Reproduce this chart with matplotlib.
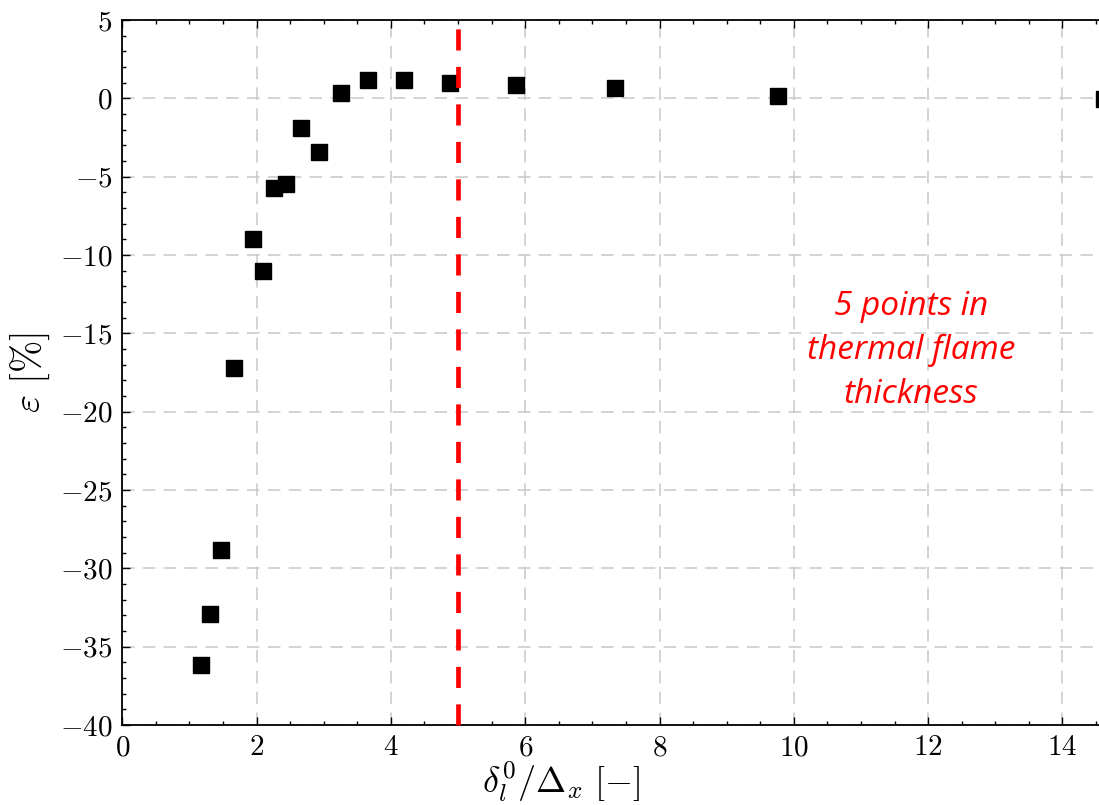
import matplotlib
matplotlib.use("Agg")
import matplotlib.pyplot as plt
from matplotlib.ticker import MultipleLocator

# Resolution ratio and relative error of the laminar flame speed
resolution = [1.17, 1.31, 1.47, 1.67, 1.95, 2.09, 2.26, 2.44, 2.66, 2.93,
              3.26, 3.66, 4.19, 4.88, 5.86, 7.33, 9.76, 14.62]
error_pct = [-36.2, -32.9, -28.8, -17.2, -9.0, -11.0, -5.75, -5.5, -1.9, -3.4,
             0.35, 1.15, 1.2, 0.95, 0.85, 0.65, 0.15, -0.05]
threshold = 5.0
note = "5 points in\nthermal flame\nthickness"
x_ticks = [0, 2, 4, 6, 8, 10, 12, 14]
y_ticks = [-40, -35, -30, -25, -20, -15, -10, -5, 0, 5]

plt.rcParams.update({
    "font.family": "serif",
    "font.serif": ["cmr10"],
    "mathtext.fontset": "cm",
    "axes.formatter.use_mathtext": True,
    "lines.scale_dashes": False,
})

W, H = 1099, 805
fig = plt.figure(figsize=(W / 100, H / 100), dpi=100)
left_px, top_px, bottom_px = 122.3, 20.0, 725.0
px_per_unit = 67.15
ax = fig.add_axes([left_px / W, (H - bottom_px) / H,
                   15 * px_per_unit / W, (bottom_px - top_px) / H])

ax.set_xlim(0, 15)
ax.set_ylim(-40, 5)
ax.set_xticks(x_ticks)
ax.set_yticks(y_ticks)
ax.xaxis.set_minor_locator(MultipleLocator(0.5))
ax.yaxis.set_minor_locator(MultipleLocator(1))

ax.grid(True, which="major", color="#c8c8c8", linewidth=1.1,
        linestyle=(0, (9, 6)), zorder=0)
ax.set_axisbelow(True)

ax.plot(resolution, error_pct, linestyle="none", marker="s", markersize=11.5,
        markerfacecolor="black", markeredgecolor="black", zorder=3)

ax.plot([threshold, threshold], [-40, 5.45], color="#ff0000", linewidth=3.4,
        linestyle=(0, (15.2, 11.8)), clip_on=False, zorder=4)

ax.text(11.745, -16.1, note, color="#ff0000", fontsize=24, style="italic",
        family=["Open Sans", "DejaVu Sans"], ha="center", va="center",
        linespacing=1.45, zorder=5)

for side in ("top", "bottom", "left", "right"):
    ax.spines[side].set_linewidth(1.3)

ax.tick_params(which="both", direction="in", top=True, right=True,
               labelsize=21, width=1.0)
ax.tick_params(which="major", length=5.5, pad=7)
ax.tick_params(which="minor", length=3.2)

ax.set_ylabel(r"$\varepsilon\ [\%]$", fontsize=28, labelpad=6)
ax.set_xlabel(r"$\delta_l^0/\Delta_x\ [-]$", fontsize=26)
ax.xaxis.set_label_coords(0.436, -0.049)

fig.savefig("out.png", dpi=100)
